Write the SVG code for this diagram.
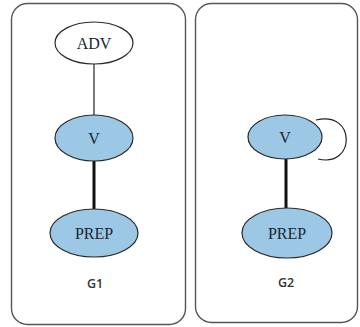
<svg xmlns="http://www.w3.org/2000/svg" width="360" height="327" viewBox="0 0 360 327">
  <style>
    .panel { fill: #ffffff; stroke: #555555; stroke-width: 1.4; }
    .node-white { fill: #ffffff; stroke: #2a2a2a; stroke-width: 1.2; }
    .node-blue { fill: #9cc8e6; stroke: #2a2a2a; stroke-width: 1.2; }
    .lbl { font-family: "Liberation Serif", "Times New Roman", serif; font-size: 16px; fill: #1a2533; text-anchor: middle; }
    .cap { font-family: "Open Sans", "Liberation Sans", sans-serif; font-size: 12.5px; font-weight: 600; fill: #333333; text-anchor: middle; }
    .thin { stroke: #222222; stroke-width: 1.2; fill: none; }
    .thick { stroke: #111111; stroke-width: 3; fill: none; }
  </style>
  <rect width="360" height="327" fill="#ffffff"/>

  <!-- panel frames -->
  <g id="panel-g1">
    <rect class="panel" x="11.5" y="3.5" width="174" height="321" rx="16"/>
    <text class="cap" x="95" y="288">G1</text>
  </g>
  <g id="panel-g2">
    <rect class="panel" x="195.5" y="3.5" width="162" height="319" rx="16"/>
    <text class="cap" x="286" y="287">G2</text>
  </g>

  <!-- connectors -->
  <g id="connectors">
    <line class="thin" x1="94" y1="64" x2="94" y2="116"/>
    <line class="thick" x1="94" y1="161" x2="94" y2="209"/>
    <line class="thick" x1="286" y1="159" x2="286" y2="208"/>
    <path class="thin" d="M 316 120 C 356 110, 356 168, 318 159"/>
  </g>

  <!-- G1 nodes -->
  <g id="g1-adv">
    <ellipse class="node-white" cx="94" cy="43" rx="39" ry="21"/>
    <text class="lbl" x="94" y="49">ADV</text>
  </g>
  <g id="g1-v">
    <ellipse class="node-blue" cx="94" cy="138" rx="39" ry="23"/>
    <text class="lbl" x="94" y="144">V</text>
  </g>
  <g id="g1-prep">
    <ellipse class="node-blue" cx="94" cy="233" rx="44" ry="24"/>
    <text class="lbl" x="94" y="239">PREP</text>
  </g>

  <!-- G2 nodes -->
  <g id="g2-v">
    <ellipse class="node-blue" cx="285" cy="137" rx="37" ry="22"/>
    <text class="lbl" x="285" y="143">V</text>
  </g>
  <g id="g2-prep">
    <ellipse class="node-blue" cx="287" cy="233" rx="45" ry="25"/>
    <text class="lbl" x="287" y="239">PREP</text>
  </g>
</svg>
